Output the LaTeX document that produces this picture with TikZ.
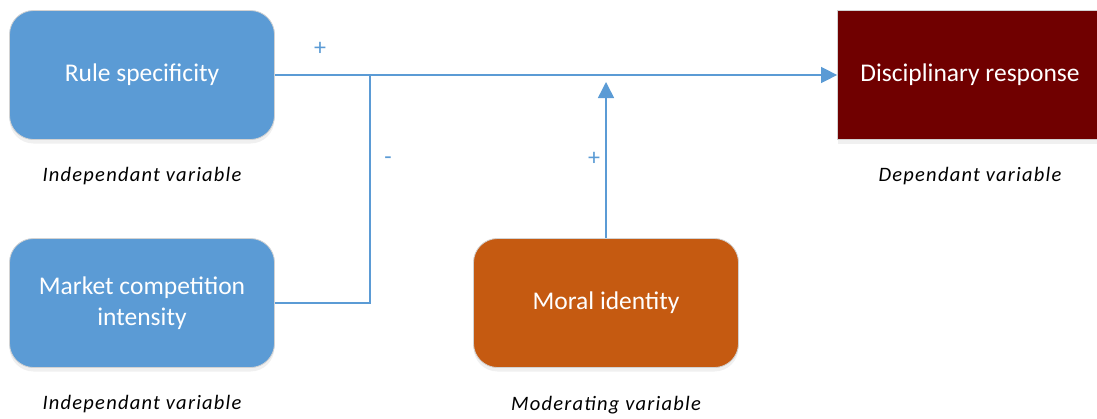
\documentclass[tikz,border=0pt]{standalone}
\usepackage{fontspec}
\setmainfont{Carlito}
\usetikzlibrary{arrows.meta,shadows}

\definecolor{boxblue}{HTML}{5B9BD5}
\definecolor{boxorange}{HTML}{C55A11}
\definecolor{boxred}{HTML}{700000}

\begin{document}
\begin{tikzpicture}[x=1pt,y=-1pt, line width=1.5pt, draw=boxblue,
  varbox/.style={draw=gray!35, line width=0.8pt, rounded corners=24pt,
    minimum width=265pt, minimum height=129pt, text=white, align=center,
    font=\fontsize{25.5}{30.5}\selectfont,
    drop shadow={shadow xshift=0pt, shadow yshift=-4pt, opacity=0.12}},
  vartag/.style={font=\fontsize{20.5}{24}\selectfont\itshape\addfontfeature{LetterSpace=6}},
  sign/.style={text=boxblue, font=\fontsize{24}{28}\selectfont},
  tip/.style={-{Triangle[length=16pt,width=16pt]}}]
\useasboundingbox (0,0) rectangle (1097,418);
\clip (0,0) rectangle (1097,418);
\node  (1)[varbox, fill=boxblue] at (142,75) {Rule specificity};
\node  (2)[varbox, fill=boxblue] [below of = 1, node distance=228pt] {Market competition\\intensity};
\node  (3)[varbox, fill=boxorange] [right of = 2, node distance=464pt] {Moral identity};
\node  (4)[varbox, fill=boxred, rounded corners=0pt] at (970,75) {Disciplinary response};
\node  (5)[vartag] [below of = 1, node distance=101pt] {Independant variable};
\node  (6)[vartag] [below of = 2, node distance=101pt] {Independant variable};
\node  (7)[vartag] [below of = 3, node distance=102pt] {Moderating variable};
\node  (8)[vartag] [below of = 4, node distance=101pt] {Dependant variable};
\coordinate (j) at (370,75);
\coordinate (m) at (606,75);
\draw[boxblue, tip] (1.east) -- (4.west);
\draw[boxblue] (2.east) -| (j);
\draw[boxblue, tip, shorten >=7pt] (3.north) -- (m);
\node  (p1)[sign] at (320,49) {+};
\node  (p2)[sign] at (388,161) {-};
\node  (p3)[sign] at (594,159) {+};
\end{tikzpicture}
\end{document}
